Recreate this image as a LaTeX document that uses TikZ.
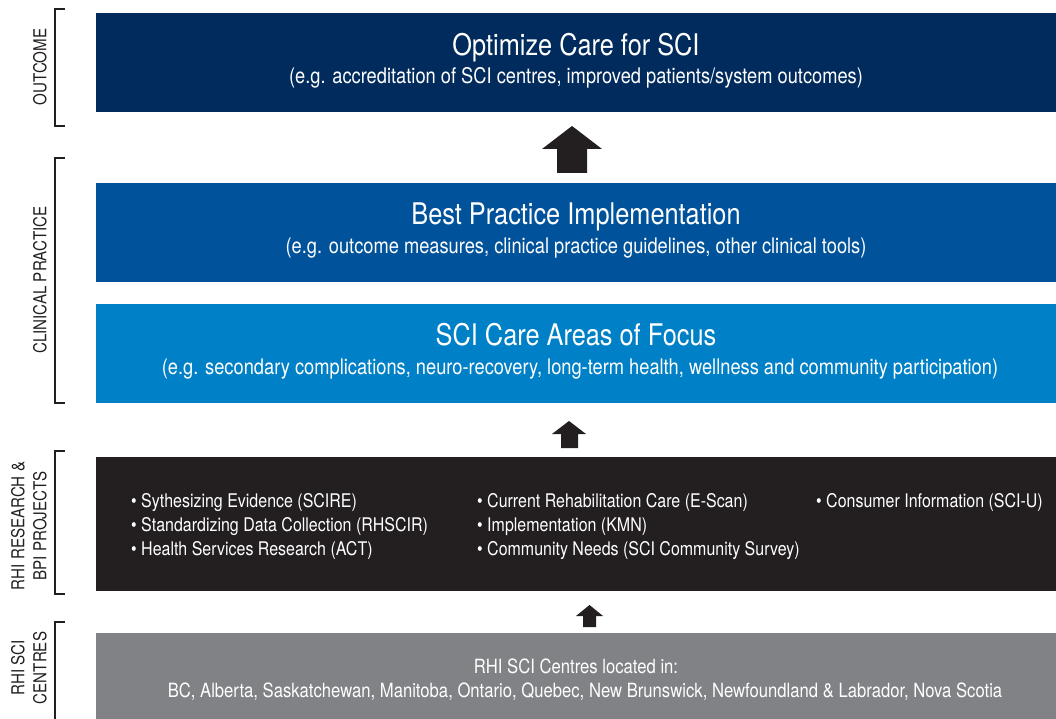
\documentclass[tikz,border=0pt]{standalone}
\usepackage{fontspec}
\setmainfont[FakeStretch=0.85]{TeX Gyre Heros}
\usepackage{tikz}
\usetikzlibrary{positioning}

\definecolor{outcomeblue}{HTML}{002B5C}
\definecolor{practiceblue}{HTML}{00539B}
\definecolor{focusblue}{HTML}{0080C6}
\definecolor{projectblack}{HTML}{231F20}
\definecolor{centregrey}{HTML}{808285}

\begin{document}
\begin{tikzpicture}[x=1pt, y=-1pt,
		band/.style={anchor=north west, minimum width=960, inner sep=0, outer sep=0},
		heading/.style={anchor=base, text=white, inner sep=0, font=\fontsize{29.8}{32}\selectfont},
		subline/.style={anchor=base, text=white, inner sep=0, font=\fontsize{21.5}{24}\selectfont},
		listitem/.style={anchor=base west, text=white, inner sep=0, font=\fontsize{18.8}{22}\selectfont},
		centreline/.style={anchor=base, text=white, inner sep=0, font=\fontsize{19.6}{22}\selectfont},
		tier/.style={rotate=90, align=center, text=projectblack, font=\fontsize{17.8}{22}\selectfont},
		bracket/.style={draw=projectblack, line width=2.5},
		blockarrow/.style={fill=projectblack}]
		\useasboundingbox (0,0) rectangle (1056,719);
		% coloured bands
		\node[band, fill=outcomeblue, minimum height=99] (outcome) at (96,13) {};
		\node[band, fill=practiceblue, minimum height=99] (practice) at (96,183) {};
		\node[band, fill=focusblue, minimum height=99] (focus) at (96,304) {};
		\node[band, fill=projectblack, minimum height=134] (projects) at (96,457) {};
		\node[band, fill=centregrey, minimum height=86] (centres) at (96,633) {};
		% band texts
		\node[heading] (outcometitle) at (576,55.5) {Optimize Care for SCI};
		\node[subline] (outcomenote) at (576,84) {(e.g. accreditation of SCI centres, improved patients/system outcomes)};
		\node[heading] (practicetitle) at (576,224.3) {Best Practice Implementation};
		\node[subline] (practicenote) at (576,253) {(e.g. outcome measures, clinical practice guidelines, other clinical tools)};
		\node[heading] (focustitle) at (576,345) {SCI Care Areas of Focus};
		\node[subline] (focusnote) at (580,374) {(e.g. secondary complications, neuro-recovery, long-term health, wellness and community participation)};
		\node[listitem] (scire) at (131,507) {\textbullet\ Sythesizing Evidence (SCIRE)};
		\node[listitem] (rhscir) at (131,531) {\textbullet\ Standardizing Data Collection (RHSCIR)};
		\node[listitem] (act) at (131,555) {\textbullet\ Health Services Research (ACT)};
		\node[listitem] (escan) at (477,507) {\textbullet\ Current Rehabilitation Care (E-Scan)};
		\node[listitem] (kmn) at (477,531) {\textbullet\ Implementation (KMN)};
		\node[listitem] (survey) at (477,555) {\textbullet\ Community Needs (SCI Community Survey)};
		\node[listitem] (sciu) at (816,507) {\textbullet\ Consumer Information (SCI-U)};
		\node[centreline] (centresintro) at (576,673) {RHI SCI Centres located in:};
		\node[centreline] (provinces) at (585,697) {BC, Alberta, Saskatchewan, Manitoba, Ontario, Quebec, New Brunswick, Newfoundland \& Labrador, Nova Scotia};
		% arrows
		\fill[blockarrow] (572,126) -- (602,149) -- (587,149) -- (587,173) -- (557,173) -- (557,149) -- (542,149) -- cycle;
		\fill[blockarrow] (569,421) -- (586,434) -- (578,434) -- (578,448) -- (561,448) -- (561,434) -- (552,434) -- cycle;
		\fill[blockarrow] (589.5,605) -- (603,616) -- (596,616) -- (596,627) -- (583,627) -- (583,616) -- (576,616) -- cycle;
		% side brackets and labels
		\draw[bracket] (65,9) -- (55,9) -- (55,126) -- (65,126);
		\draw[bracket] (65,158) -- (55,158) -- (55,403) -- (65,403);
		\draw[bracket] (65,451) -- (55,451) -- (55,594) -- (65,594);
		\draw[bracket] (65,622) -- (55,622) -- (55,719);
		\node[tier] (outcomelabel) at (40,67) {OUTCOME};
		\node[tier] (practicelabel) at (40,280) {CLINICAL PRACTICE};
		\node[tier] (projectslabel) at (29,526) {RHI RESEARCH \&\\BPI PROJECTS};
		\node[tier] (centreslabel) at (29,668) {RHI SCI\\CENTRES};
	\end{tikzpicture}
\end{document}
